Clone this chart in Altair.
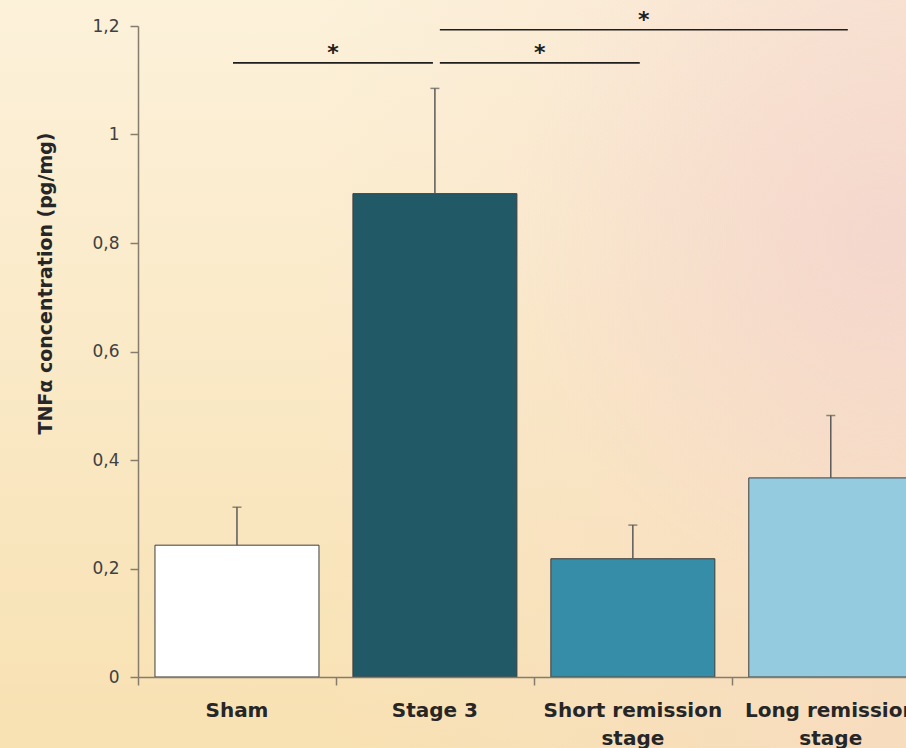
import altair as alt
import pandas as pd

# Group means and standard errors of TNFα (pg/mg)
groups = ["Sham", "Stage 3", "Short remission\nstage", "Long remission\nstage"]
means = [0.243, 0.891, 0.218, 0.367]
errors = [0.070, 0.194, 0.062, 0.115]
bar_colors = ["#FFFFFF", "#225967", "#358DA8", "#95CBDE"]

# Significance brackets: start/end on the group axis, height on the value axis
sig_start = [-0.02, 1.025, 1.025]
sig_end = [0.99, 2.035, 3.086]
sig_level = [1.132, 1.132, 1.193]
sig_label = ["*", "*", "*"]

df = pd.DataFrame({
    "group": groups,
    "pos": list(range(len(groups))),
    "mean": means,
    "err": errors,
    "color": bar_colors,
})
df["top"] = df["mean"] + df["err"]

sig = pd.DataFrame({"x1": sig_start, "x2": sig_end, "level": sig_level, "label": sig_label})
sig["mid"] = (sig["x1"] + sig["x2"]) / 2

W, H = 768, 651
PAD = {"left": 138, "top": 26, "right": 0, "bottom": 71}

xs = alt.Scale(domain=[-0.5, 3.38], nice=False, zero=False, padding=0)
ys = alt.Scale(domain=[0, 1.2], nice=False)
AX = "#857c6e"

x_axis = alt.Axis(values=[-0.5, 0.5, 1.5, 2.5], labels=False, title=None, grid=False,
                  tickSize=8, tickWidth=1.5, tickColor=AX, domainColor=AX, domainWidth=1.5,
                  zindex=1)
y_axis = alt.Axis(values=[0, 0.2, 0.4, 0.6, 0.8, 1.0, 1.2],
                  labelExpr="replace(format(datum.value, '.1~f'), '.', ',')",
                  title="TNFα concentration (pg/mg)", grid=False,
                  tickSize=8, tickWidth=1.5, tickColor=AX, domainColor=AX, domainWidth=1.5,
                  labelFont="DejaVu Sans", labelFontSize=17, labelColor="#404040", labelPadding=11,
                  titleFont="DejaVu Sans", titleFontSize=19, titleFontWeight="bold",
                  titleColor="#262626", titleAngle=-90, titleX=-93, titleY=257,
                  titleAlign="center", titleBaseline="middle", zindex=1)

one = alt.Data(values=[{}])
full = dict(x=alt.value(-PAD["left"]), x2=alt.value(W), y=alt.value(-PAD["top"]), y2=alt.value(H + PAD["bottom"]))

# Warm cream backdrop fading into a soft pink glow on the right
base_bg = alt.Chart(one).mark_rect(fill={
    "gradient": "linear", "x1": 0, "y1": 0, "x2": 0, "y2": 1,
    "stops": [{"offset": 0, "color": "#FCF1DA"}, {"offset": 1, "color": "#F8E1B2"}],
}).encode(**full)

side_bg = alt.Chart(one).mark_rect(fill={
    "gradient": "linear", "x1": 0.35, "y1": 0, "x2": 1, "y2": 0,
    "stops": [{"offset": 0, "color": "rgba(246,218,204,0)"}, {"offset": 1, "color": "rgba(246,216,202,0.5)"}],
}).encode(**full)

glow_bg = alt.Chart(one).mark_rect(fill={
    "gradient": "radial", "x1": 0.97, "y1": 0.35, "r1": 0, "x2": 0.97, "y2": 0.35, "r2": 0.4,
    "stops": [{"offset": 0, "color": "rgba(242,208,206,0.6)"}, {"offset": 1, "color": "rgba(242,208,206,0)"}],
}).encode(**full)

base = alt.Chart(df)

bars = base.mark_bar(size=164, stroke="#3d3d3d", strokeWidth=1, clip=True).encode(
    x=alt.X("pos:Q", scale=xs, axis=x_axis),
    y=alt.Y("mean:Q", scale=ys, axis=y_axis),
    fill=alt.Fill("color:N", scale=None),
)

stems = base.mark_rule(color="#5a5a5a", strokeWidth=1.5).encode(
    x=alt.X("pos:Q", scale=xs),
    y=alt.Y("mean:Q", scale=ys),
    y2="top:Q",
)

caps = base.mark_tick(orient="horizontal", size=9, thickness=1.5, color="#5a5a5a").encode(
    x=alt.X("pos:Q", scale=xs),
    y=alt.Y("top:Q", scale=ys),
)

brackets = alt.Chart(sig).mark_rule(color="#1e1e1e", strokeWidth=1.6).encode(
    x=alt.X("x1:Q", scale=xs),
    x2="x2:Q",
    y=alt.Y("level:Q", scale=ys),
)

stars = alt.Chart(sig).mark_text(font="DejaVu Sans", fontSize=22, fontWeight="bold",
                                 color="#1e1e1e", baseline="alphabetic", dy=-3).encode(
    x=alt.X("mid:Q", scale=xs),
    y=alt.Y("level:Q", scale=ys),
    text="label:N",
)

xlabels = base.mark_text(font="DejaVu Sans", fontSize=20, fontWeight="bold", color="#262626",
                         baseline="alphabetic", lineBreak="\n", lineHeight=28).encode(
    x=alt.X("pos:Q", scale=xs),
    y=alt.value(H + 40),
    text="group:N",
)

chart = alt.layer(base_bg, side_bg, glow_bg, bars, stems, caps, brackets, stars, xlabels).properties(
    width=W, height=H, autosize="none", padding=PAD, background="#FBEFD6",
).configure_view(stroke=None)

chart.save("out.html", embed_options={"renderer": "svg", "actions": False})
